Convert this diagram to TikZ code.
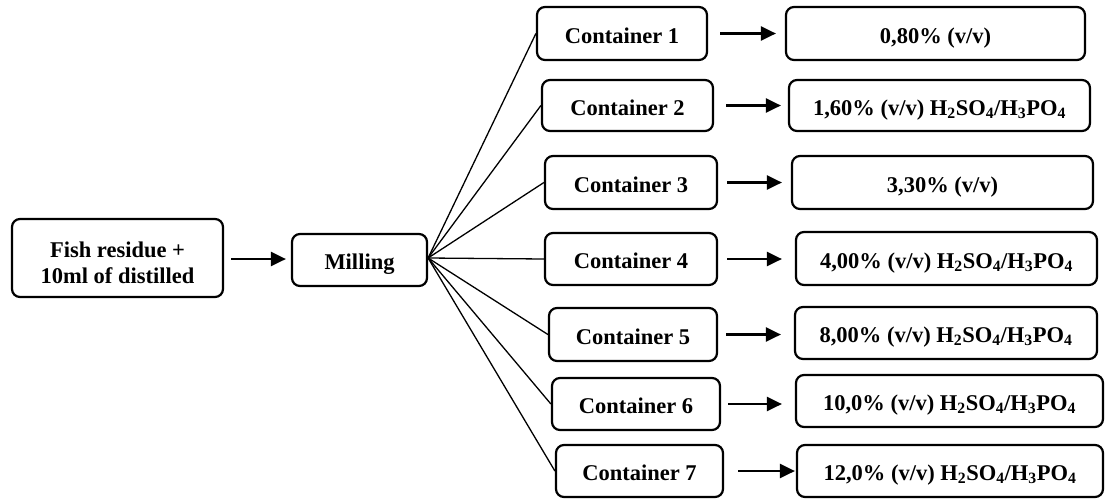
\documentclass[tikz,border=0pt]{standalone}
\usepackage{fontspec}
\setmainfont{Liberation Serif}
\usetikzlibrary{arrows.meta}
\tikzset{
  box/.style={draw=black, line width=2.2pt, rounded corners=8pt, font=\bfseries\fontsize{22.5}{26.5}\selectfont, align=center, inner sep=0pt, text height=20pt, text depth=1pt},
  arr/.style={line width=2.4pt, -{Triangle[length=15pt,width=14pt]}},
  fan/.style={line width=1.3pt}
}
\newcommand{\acid}{H\textsubscript{2}SO\textsubscript{4}/H\textsubscript{3}PO\textsubscript{4}}
\begin{document}
\begin{tikzpicture}[x=1pt,y=-1pt]
\useasboundingbox (0,0) rectangle (1105,498);
% left boxes
\node[box, minimum width=211pt, minimum height=78pt, text height=, text depth=] (fish) at (117.5,258) {\raisebox{-7pt}[\height][\depth]{\begin{tabular}{@{}c@{}}Fish residue +\\10ml of distilled\end{tabular}}};
\node[box, minimum width=135pt, minimum height=52pt] (mil) at (359.5,260) {Milling};
% containers
\node[box, minimum width=170pt, minimum height=53pt] (c1) at (622,33.5) {Container 1};
\node[box, minimum width=171pt, minimum height=51pt] (c2) at (627.5,105.5) {Container 2};
\node[box, minimum width=172pt, minimum height=53pt] (c3) at (631,182.5) {Container 3};
\node[box, minimum width=172pt, minimum height=52pt] (c4) at (631,259) {Container 4};
\node[box, minimum width=168pt, minimum height=53pt] (c5) at (633,334.5) {Container 5};
\node[box, minimum width=168pt, minimum height=52pt] (c6) at (636,404) {Container 6};
\node[box, minimum width=167pt, minimum height=52pt] (c7) at (639.5,471) {Container 7};
% results
\node[box, minimum width=299pt, minimum height=53pt] (r1) at (935.5,33.5) {0,80\% (v/v)};
\node[box, minimum width=301pt, minimum height=51pt] (r2) at (939.5,105.5) {1,60\% (v/v) \acid};
\node[box, minimum width=301pt, minimum height=53pt] (r3) at (942.5,182.5) {3,30\% (v/v)};
\node[box, minimum width=301pt, minimum height=53pt] (r4) at (946.5,258.5) {4,00\% (v/v) \acid};
\node[box, minimum width=302pt, minimum height=52pt] (r5) at (946,333) {8,00\% (v/v) \acid};
\node[box, minimum width=307pt, minimum height=52pt] (r6) at (949.5,401) {10,0\% (v/v) \acid};
\node[box, minimum width=306pt, minimum height=52pt] (r7) at (950,471) {12,0\% (v/v) \acid};
% connectors
\draw[arr, shorten <=7pt, shorten >=5pt] (fish.east |- 0,259) coordinate (fa) -- (fa -| mil.west);
\coordinate (m) at ([yshift=2pt]mil.east);
\foreach \i in {1,...,7} \draw[fan] (m) -- (c\i.west);
\draw[arr, shorten <=12pt, shorten >=9pt] (c1.east) -- (c1.east -| r1.west);
\draw[arr, shorten <=12pt, shorten >=7pt] (c2.east) -- (c2.east -| r2.west);
\draw[arr, shorten <=9pt, shorten >=9pt] (c3.east) -- (c3.east -| r3.west);
\draw[arr, shorten <=9pt, shorten >=13pt] (c4.east) -- (c4.east -| r4.west);
\draw[arr, shorten <=8pt, shorten >=13pt] (c5.east) -- (c5.east -| r5.west);
\draw[arr, shorten <=7pt, shorten >=13pt] (c6.east) -- (c6.east -| r6.west);
\draw[arr, shorten <=14pt, shorten >=1pt] (c7.east) -- (c7.east -| r7.west);
\end{tikzpicture}
\end{document}
